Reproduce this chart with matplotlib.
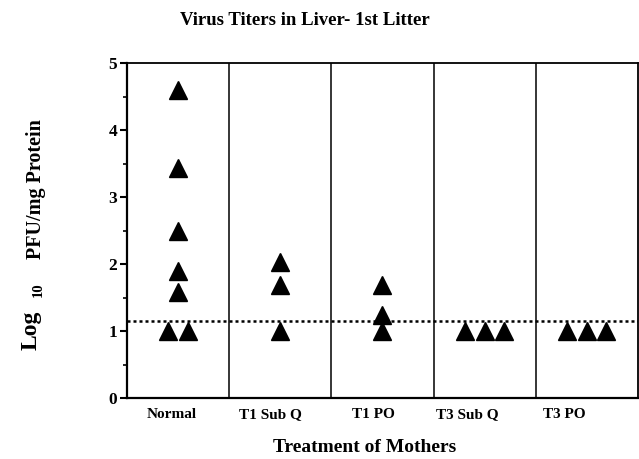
import matplotlib
matplotlib.use('Agg')
import matplotlib.pyplot as plt
import numpy as np

plt.rcParams['font.family'] = 'Liberation Serif'
plt.rcParams['font.weight'] = 'bold'

groups = ['Normal', 'T1 Sub Q', 'T1 PO', 'T3 Sub Q', 'T3 PO']
titers = [
    [4.6, 3.43, 2.5, 1.9, 1.58, 1.0, 1.0],
    [2.03, 1.68, 1.0],
    [1.68, 1.24, 1.0],
    [1.0, 1.0, 1.0],
    [1.0, 1.0, 1.0],
]
detection_limit = 1.15

fig = plt.figure(figsize=(6.39, 4.59), dpi=100)
ax = fig.add_axes([0.1987, 0.1329, 0.7997, 0.7298])

spread = 0.19
for i, vals in enumerate(titers):
    xs, ys = [], []
    for v in sorted(set(vals)):
        n = vals.count(v)
        for k in range(n):
            xs.append(i + 0.5 + (k - (n - 1) / 2) * spread)
            ys.append(v)
    ax.plot(xs, ys, linestyle='none', marker='^', color='black', markersize=13.5)

for i in range(1, len(groups)):
    ax.axvline(i, color='black', linewidth=1.1)

ax.axhline(detection_limit, color='black', linestyle=(0, (1.2, 1.2)), linewidth=1.8)

ax.set_xlim(0, len(groups))
ax.set_ylim(0, 5)
ax.set_yticks(range(6))
ax.set_yticks(np.arange(0.5, 5, 1), minor=True)
ax.tick_params(axis='y', which='major', length=5, width=1.5, labelsize=12.5, pad=2)
ax.tick_params(axis='y', which='minor', length=3, width=1.2)

tick_x = [0.44, 1.40, 2.41, 3.33, 4.28]
ax.set_xticks(tick_x)
ax.set_xticklabels(groups, fontsize=11, fontweight='bold')
ax.tick_params(axis='x', length=0, pad=7)

for s in ['left', 'bottom']:
    ax.spines[s].set_linewidth(1.6)
for s in ['top', 'right']:
    ax.spines[s].set_linewidth(1.3)

fig.text(0.477, 0.956, 'Virus Titers in Liver- 1st Litter', ha='center', va='center',
         fontsize=13.5, fontweight='bold')
fig.text(0.571, 0.026, 'Treatment of Mothers', ha='center', va='center',
         fontsize=14, fontweight='bold')

# y label in three pieces: Log, subscript 10, units
fig.text(0.056, 0.588, 'PFU/mg Protein', rotation=90, ha='center', va='center',
         fontsize=14.5, fontweight='bold')
fig.text(0.060, 0.368, '10', rotation=90, ha='center', va='center',
         fontsize=10.5, fontweight='bold')
fig.text(0.048, 0.281, 'Log', rotation=90, ha='center', va='center',
         fontsize=17, fontweight='bold')

fig.savefig('out.png', dpi=100)
